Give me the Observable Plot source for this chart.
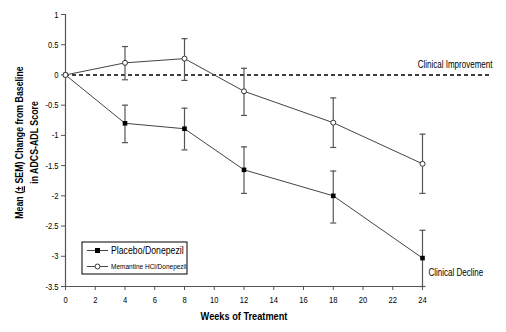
<!DOCTYPE html>
<html>
<head>
<meta charset="utf-8">
<script src="https://cdn.jsdelivr.net/npm/d3@7"></script>
<script src="https://cdn.jsdelivr.net/npm/@observablehq/plot@0.6"></script>
<style>
  html, body { margin: 0; padding: 0; background: #fff; }
  #chart { position: relative; width: 506px; height: 332px; }
</style>
</head>
<body>
<div id="chart"></div>
<script>
// ---- data ----
const weeks = [0, 4, 8, 12, 18, 24];
const placeboMean = [0, -0.80, -0.89, -1.57, -2.00, -3.03];
const placeboHi   = [0, -0.50, -0.55, -1.19, -1.59, -2.57];
const placeboLo   = [0, -1.12, -1.24, -1.96, -2.45, -3.50];
const memMean = [0, 0.20, 0.27, -0.27, -0.79, -1.47];
const memHi   = [0, 0.47, 0.60, 0.11, -0.38, -0.98];
const memLo   = [0, -0.08, -0.09, -0.67, -1.20, -1.96];
const seriesNames = ["Placebo/Donepezil", "Memantine HCl/Donepezil"];
const xTicks = [0, 2, 4, 6, 8, 10, 12, 14, 16, 18, 20, 22, 24];
const yTicks = [1, 0.5, 0, -0.5, -1, -1.5, -2, -2.5, -3, -3.5];
const xDomain = [0, 24];
const yDomain = [-3.5, 1];
const baselineEnd = 28.7;
const annotations = [
  {x: baselineEnd, y: 0, text: "Clinical Improvement", anchor: "end"},
  {x: 24, y: -3.27, text: "Clinical Decline", anchor: "start"}
];
const xLabel = "Weeks of Treatment";
const yLabel = "Mean (± SEM) Change from Baseline\nin ADCS-ADL Score";

const placebo = weeks.map((w, i) => ({week: w, mean: placeboMean[i], hi: placeboHi[i], lo: placeboLo[i]}));
const mem = weeks.map((w, i) => ({week: w, mean: memMean[i], hi: memHi[i], lo: memLo[i]}));
const errs = [...placebo, ...mem].filter(d => d.week > 0);

const FONT = "'Liberation Sans', Arial, sans-serif";
const capSymbol = { draw(ctx) { ctx.moveTo(-3, 0); ctx.lineTo(3, 0); } };

const plot = Plot.plot({
  width: 506,
  height: 332,
  marginLeft: 65,
  marginRight: 84,
  marginTop: 14,
  marginBottom: 46,
  style: { fontFamily: FONT, fontSize: "9px", color: "#000", background: "#fff", overflow: "visible" },
  x: { domain: xDomain },
  y: { domain: yDomain },
  marks: [
    Plot.axisY({ ticks: yTicks, tickFormat: d => String(d), tickSize: 4, tickPadding: 3, label: null, stroke: "#555", fontSize: 9.5 }),
    Plot.axisX({ ticks: xTicks, tickFormat: d => String(d), tickSize: 4, tickPadding: 6, label: null, stroke: "#555", fontSize: 9.5 }),
    Plot.ruleX([xDomain[0]], { y1: yDomain[0], y2: yDomain[1], stroke: "#555", strokeWidth: 1.2 }),
    Plot.ruleY([yDomain[0]], { x1: xDomain[0], x2: xDomain[1], stroke: "#555", strokeWidth: 1.2 }),
    Plot.ruleY([0], { x1: xDomain[0], x2: baselineEnd, stroke: "#000", strokeWidth: 1.6, strokeDasharray: "4,3" }),
    Plot.ruleX(errs, { x: "week", y1: "lo", y2: "hi", stroke: "#555", strokeWidth: 1.2 }),
    Plot.dot(errs, { x: "week", y: "hi", symbol: capSymbol, stroke: "#555", strokeWidth: 1.2, fill: "none", r: 3 }),
    Plot.dot(errs, { x: "week", y: "lo", symbol: capSymbol, stroke: "#555", strokeWidth: 1.2, fill: "none", r: 3 }),
    Plot.line(placebo, { x: "week", y: "mean", stroke: "#444", strokeWidth: 1 }),
    Plot.line(mem, { x: "week", y: "mean", stroke: "#444", strokeWidth: 1 }),
    Plot.dot(placebo, { x: "week", y: "mean", symbol: "square", r: 2.6, fill: "#000", stroke: "none" }),
    Plot.dot(mem, { x: "week", y: "mean", symbol: "circle", r: 2.5, fill: "#fff", stroke: "#333", strokeWidth: 1 }),
    Plot.text(annotations.filter(d => d.anchor === "end"), { x: "x", y: "y", text: "text", textAnchor: "end", dy: -10, fontSize: 10, fill: "#000" }),
    Plot.text(annotations.filter(d => d.anchor === "start"), { x: "x", y: "y", text: "text", textAnchor: "start", dx: 6, fontSize: 10, fill: "#000" }),
    Plot.text([xLabel], { frameAnchor: "bottom", dy: 33, fontSize: 11.5, fontWeight: "bold", fill: "#000" }),
    Plot.text([yLabel], { frameAnchor: "left", textAnchor: "middle", lineAnchor: "middle", rotate: -90, dx: -40, dy: -8, lineHeight: 1.35, fontSize: 11, fontWeight: "bold", fill: "#000" })
  ]
});

const svg = d3.select(plot);

// legend inside the plot area
const lg = svg.append("g").attr("transform", "translate(82,242)");
lg.append("rect").attr("width", 105).attr("height", 32).attr("fill", "#fff").attr("stroke", "#000").attr("stroke-width", 1);
const rows = [
  { name: seriesNames[0], y: 8.5, sym: "square", size: 10.9, narrow: true },
  { name: seriesNames[1], y: 24.5, sym: "circle", size: 6.5, narrow: false }
];
rows.forEach(r => {
  lg.append("line").attr("x1", 5).attr("x2", 26).attr("y1", r.y).attr("y2", r.y).attr("stroke", "#444").attr("stroke-width", 1);
  if (r.sym === "square") {
    lg.append("rect").attr("x", 13).attr("y", r.y - 2.5).attr("width", 5).attr("height", 5).attr("fill", "#000");
  } else {
    lg.append("circle").attr("cx", 15.5).attr("cy", r.y).attr("r", 2.5).attr("fill", "#fff").attr("stroke", "#333");
  }
  lg.append("text").attr("x", 29).attr("y", r.y).attr("dy", "0.35em").attr("font-size", r.size)
    .attr("text-anchor", "start").attr("font-family", FONT).attr("fill", "#000")
    .classed("keepwide", !r.narrow).text(r.name);
});

document.getElementById("chart").appendChild(plot);

// emulate a narrow (condensed) typeface by compressing glyphs horizontally;
// re-anchor to start so the text box matches the compressed glyphs
const NARROW = 0.8;
svg.selectAll("text").each(function() {
  if (this.classList.contains("keepwide")) return;
  const tspans = Array.from(this.children).filter(c => c.tagName === "tspan");
  const targets = tspans.length ? tspans : [this];
  targets.forEach(t => {
    const len = t.getComputedTextLength();
    if (!(len > 0)) return;
    const newLen = len * NARROW;
    const anchor = getComputedStyle(t).textAnchor;
    if (anchor === "end" || anchor === "middle") {
      const x0 = parseFloat(t.getAttribute("x")) || 0;
      t.setAttribute("x", (x0 - newLen * (anchor === "end" ? 1 : 0.5)).toFixed(2));
      t.style.textAnchor = "start";
    }
    t.setAttribute("textLength", newLen.toFixed(2));
    t.setAttribute("lengthAdjust", "spacingAndGlyphs");
  });
});

// underline the ± in the y-axis title
svg.selectAll("tspan").each(function() {
  const t = this.textContent;
  if (t.includes("±") && this.children.length === 0) {
    const i = t.indexOf("±");
    const el = d3.select(this);
    el.text(null);
    el.append("tspan").text(t.slice(0, i));
    el.append("tspan").attr("text-decoration", "underline").text("±");
    el.append("tspan").text(t.slice(i + 1));
  }
});
</script>
</body>
</html>
